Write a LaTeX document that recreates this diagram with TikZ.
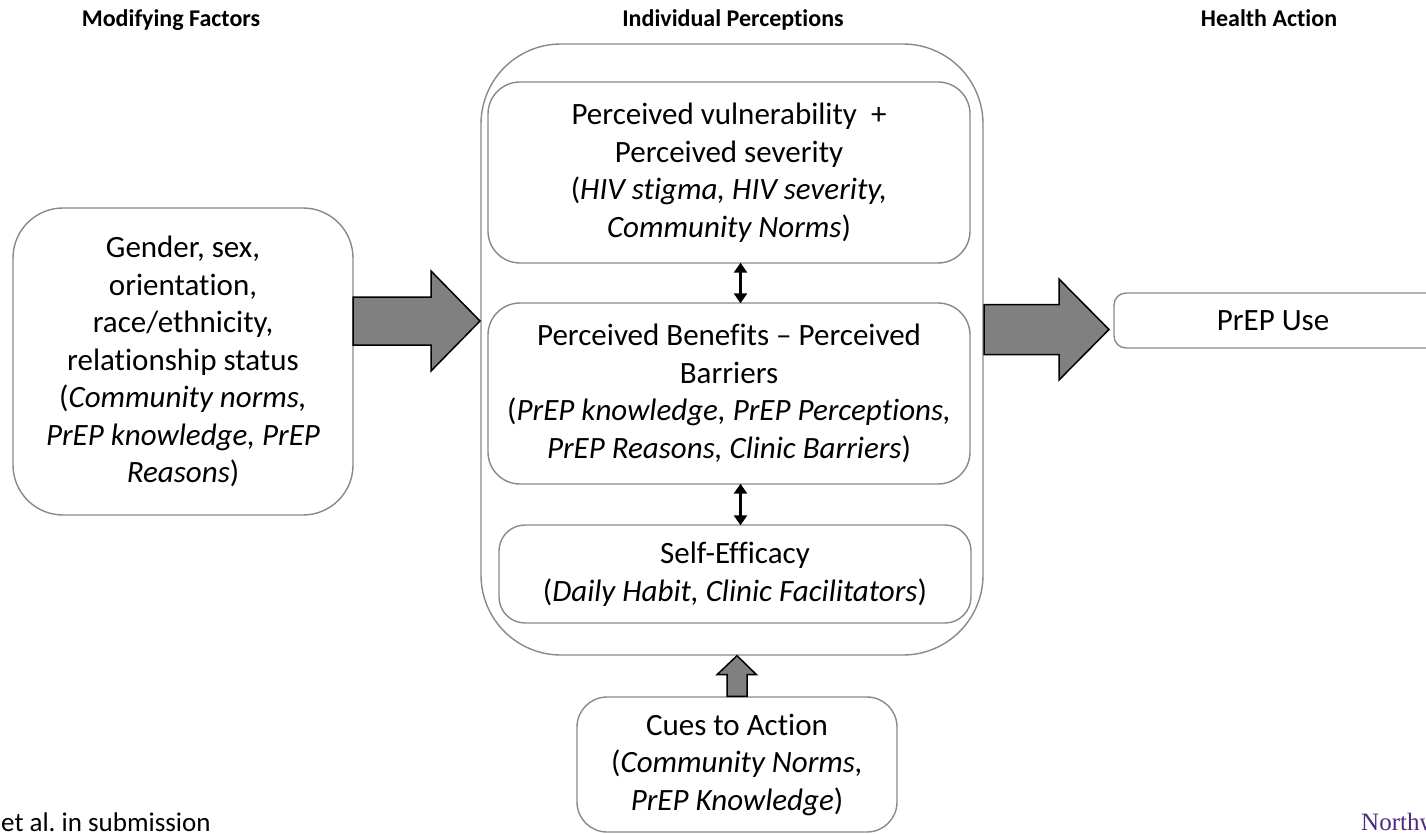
\documentclass[tikz,border=0pt]{standalone}
\usepackage{fontspec}
\setmainfont[Ligatures=NoCommon]{Carlito}
\newfontfamily\logofont{Liberation Serif}
\usetikzlibrary{arrows.meta,calc}
\definecolor{boxgray}{RGB}{137,137,137}
\definecolor{arrgray}{RGB}{128,128,128}
\definecolor{nwpurple}{RGB}{78,42,132}
\frenchspacing
\tikzset{
  box/.style={draw=boxgray, line width=1.4pt, rounded corners=#1, align=center,
    inner sep=0pt, font=\fontsize{31}{37.5}\selectfont},
  box/.default=30pt,
  header/.style={font=\fontsize{24}{29}\selectfont\bfseries, inner sep=0pt, anchor=base},
  blockarrow/.style={fill=arrgray, draw=black, line width=1.5pt, line join=miter},
  dblarrow/.style={line width=3pt, {Triangle[width=13pt,length=10pt]}-{Triangle[width=13pt,length=10pt]}, shorten <=-1pt, shorten >=-1pt},
}
\begin{document}
\begin{tikzpicture}[x=1pt,y=-1pt]
\useasboundingbox (0,0) rectangle (1426,834);
\clip (0,0) rectangle (1426,834);

% headers
\node[header] (h1) at (171,27) {Modifying Factors};
\node[header] (h2) at (733,27) {Individual Perceptions};
\node[header] (h3) at (1269,27) {Health Action};

% boxes
\node[box=50pt, minimum width=340pt, minimum height=307pt] (left) at (183,361.5)
  {Gender, sex,\\ orientation,\\ race/ethnicity,\\ relationship status\\ (\textit{Community norms,}\\ \textit{PrEP knowledge, PrEP}\\ \textit{Reasons})};
\node[box=80pt, minimum width=502pt, minimum height=611pt] (outer) at (732,349.5) {};
\node[box=32pt, minimum width=482pt, minimum height=181pt] (b1) at (729,172.5)
  {Perceived vulnerability \ +\\ Perceived severity\\ (\textit{HIV stigma, HIV severity,}\\ \textit{Community Norms})};
\node[box=32pt, minimum width=482pt, minimum height=181pt] (b2) at (729,393.5)
  {Perceived Benefits -- Perceived\\ Barriers\\ (\textit{PrEP knowledge, PrEP Perceptions,}\\ \textit{PrEP Reasons, Clinic Barriers})};
\node[box=26pt, minimum width=472pt, minimum height=98pt] (b3) at (735,574)
  {Self-Efficacy\\ (\textit{Daily Habit, Clinic Facilitators})};
\node[box=30pt, minimum width=320pt, minimum height=135pt] (cues) at (737,764.5)
  {Cues to Action\\ (\textit{Community Norms,}\\ \textit{PrEP Knowledge})};
\node[box=12pt, minimum width=330pt, minimum height=55pt] (prep) at (1279,320.5)
  {PrEP Use\hspace*{12pt}};

% double arrows
\draw[dblarrow] ([xshift=11.5pt]b1.south) -- ([xshift=11.5pt]b2.north);
\draw[dblarrow] ([xshift=11.5pt]b2.south) -- ([xshift=5.5pt]b3.north);

% block arrows
\coordinate (a1s) at (353,321);
\coordinate (a1e) at (480,321);
\draw[blockarrow] let \p1=(a1s), \p2=(a1e) in
  (\x1,\y1+24pt) -- (\x2-49pt,\y1+24pt) -- (\x2-49pt,\y1+50pt) -- (\x2,\y1)
  -- (\x2-49pt,\y1-50pt) -- (\x2-49pt,\y1-24pt) -- (\x1,\y1-24pt) -- cycle;

\coordinate (a2s) at (984,329.5);
\coordinate (a2e) at (1109,329.5);
\draw[blockarrow] let \p1=(a2s), \p2=(a2e) in
  (\x1,\y1+25pt) -- (\x2-50pt,\y1+25pt) -- (\x2-50pt,\y1+50.5pt) -- (\x2,\y1)
  -- (\x2-50pt,\y1-50.5pt) -- (\x2-50pt,\y1-25pt) -- (\x1,\y1-25pt) -- cycle;

\coordinate (a3s) at (cues.north);
\coordinate (a3e) at (cues.north |- outer.south);
\draw[blockarrow] let \p1=(a3s), \p2=(a3e) in
  (\x1-10pt,\y1) -- (\x1-10pt,\y2-19pt) -- (\x1-20pt,\y2-19pt) -- (\x2,\y2)
  -- (\x1+19.5pt,\y2-19pt) -- (\x1+10pt,\y2-19pt) -- (\x1+10pt,\y1) -- cycle;

% footer
\node[anchor=west, inner sep=0pt, font=\fontsize{27}{30}\selectfont] (cite) at (1,822) {et al. in submission};
\node[anchor=west, inner sep=0pt, font=\logofont\fontsize{25}{30}\selectfont, text=nwpurple] (logo) at (1361,822) {Northw};
\end{tikzpicture}
\end{document}
